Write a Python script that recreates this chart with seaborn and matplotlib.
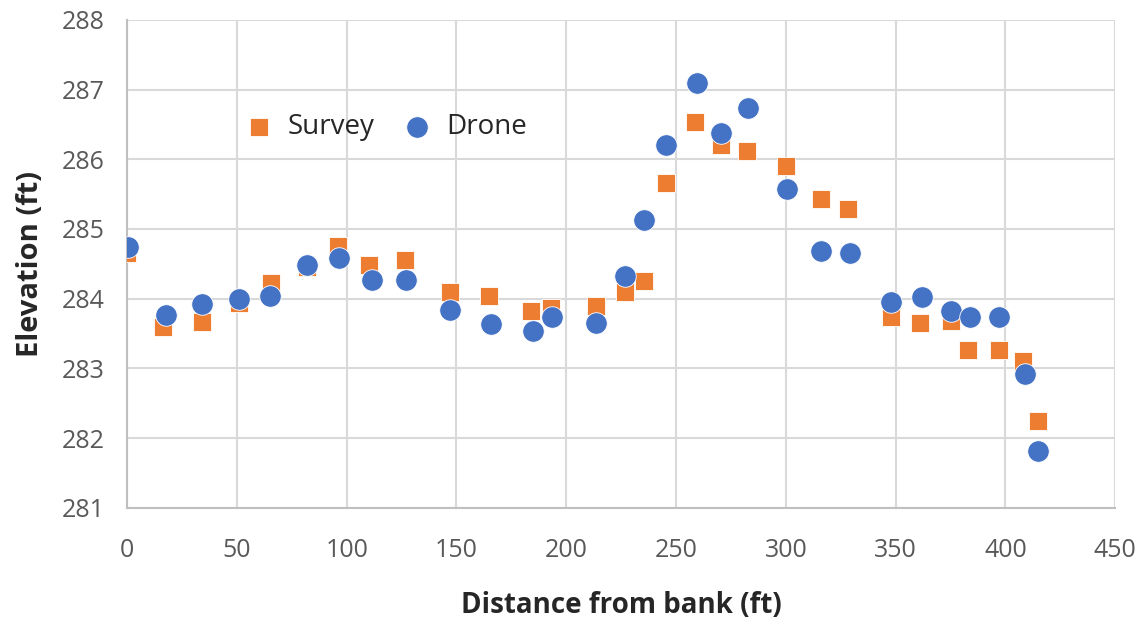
"""Survey vs drone elevation along a cross-section — scatter comparison."""
import matplotlib
matplotlib.use("Agg")
import matplotlib.pyplot as plt
import pandas as pd
import seaborn as sns

# values
survey_x = [0, 16.5, 34.3, 51.1, 65.4, 82.1, 96.2, 110.3, 126.6, 147.1, 164.8,
            184.0, 192.9, 213.6, 226.8, 235.6, 245.3, 258.7, 270.3, 282.2, 300.0,
            316.0, 328.5, 347.8, 361.1, 375.1, 383.1, 397.2, 408.2, 415.0]
survey_y = [284.65, 283.60, 283.67, 283.94, 284.22, 284.46, 284.75, 284.49, 284.55, 284.10, 284.04,
            283.83, 283.86, 283.90, 284.09, 284.25, 285.66, 286.54, 286.21, 286.12, 285.91,
            285.43, 285.28, 283.74, 283.65, 283.68, 283.26, 283.26, 283.10, 282.24]
drone_x = [0.6, 17.6, 34.3, 51.1, 65.1, 82.1, 96.7, 111.4, 127.0, 147.1, 165.6,
           184.7, 193.4, 213.6, 226.8, 235.6, 245.3, 259.4, 270.5, 282.6, 300.4,
           316.0, 329.2, 347.9, 361.9, 375.1, 383.9, 397.2, 408.9, 415.0]
drone_y = [284.74, 283.77, 283.93, 284.00, 284.04, 284.49, 284.59, 284.27, 284.27, 283.84, 283.64,
           283.53, 283.74, 283.65, 284.32, 285.13, 286.20, 287.09, 286.38, 286.74, 285.58,
           284.69, 284.66, 283.95, 284.02, 283.82, 283.74, 283.74, 282.92, 281.82]
x_ticks = [0, 50, 100, 150, 200, 250, 300, 350, 400, 450]
y_ticks = [281, 282, 283, 284, 285, 286, 287, 288]

ORANGE = "#ED7D31"
BLUE = "#4472C4"
GRID = "#D9D9D9"
TEXT = "#595959"

survey = pd.DataFrame({"dist": survey_x, "elev": survey_y})
drone = pd.DataFrame({"dist": drone_x, "elev": drone_y})

sns.set_style("white")
plt.rcParams["font.family"] = ["Open Sans", "DejaVu Sans"]

fig = plt.figure(figsize=(11.45, 6.2), dpi=100)
ax = fig.add_axes([0.111, 0.181, 0.863, 0.787])

sns.scatterplot(data=survey, x="dist", y="elev", marker="s", s=150, color=ORANGE,
                edgecolor="white", linewidth=0.6, label="Survey", ax=ax, zorder=3)
sns.scatterplot(data=drone, x="dist", y="elev", marker="o", s=240, color=BLUE,
                edgecolor="white", linewidth=0.6, label="Drone", ax=ax, zorder=4)

ax.set_xlim(0, 450)
ax.set_ylim(281, 288)
ax.set_xticks(x_ticks)
ax.set_yticks(y_ticks)
ax.grid(True, color=GRID, lw=1.5)
ax.set_axisbelow(True)
for side in ["top", "right"]:
    ax.spines[side].set_visible(False)
for side in ["left", "bottom"]:
    ax.spines[side].set_color("#BFBFBF")
    ax.spines[side].set_linewidth(1.5)
ax.tick_params(axis="y", length=0, labelsize=18, labelcolor=TEXT, pad=16)
ax.tick_params(axis="x", length=0, labelsize=18, labelcolor=TEXT, pad=22)
ax.set_xlabel("Distance from bank (ft)", fontsize=20, fontweight="bold", labelpad=20)
ax.set_ylabel("Elevation (ft)", fontsize=21, fontweight="bold", labelpad=12)

ax.legend(loc="center left", bbox_to_anchor=(0.08, 0.78), ncol=2, frameon=False,
          fontsize=20, handletextpad=0.05, columnspacing=0.5, markerscale=1.0)

fig.savefig("out.png", dpi=100)
plt.close(fig)
